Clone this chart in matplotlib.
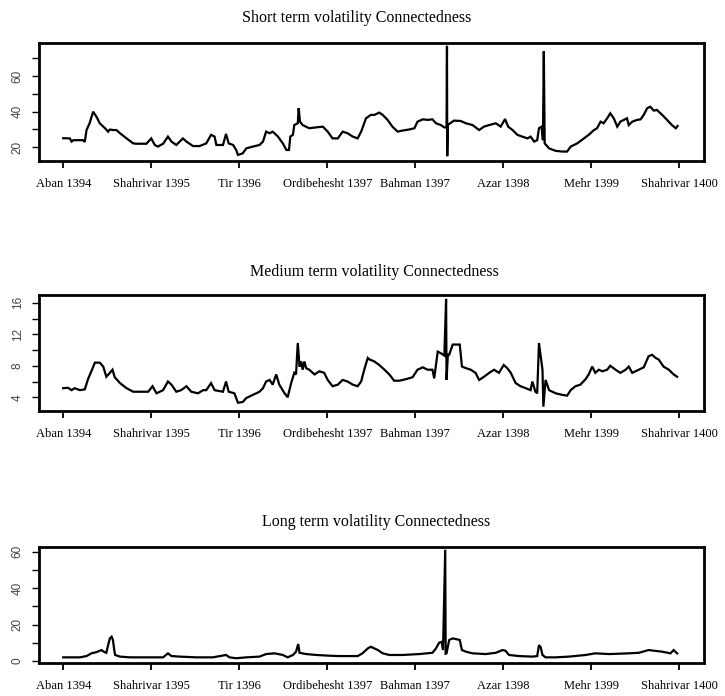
import matplotlib
matplotlib.use("Agg")
import matplotlib.pyplot as plt
import numpy as np

# observation index (trading days); tick labels every 200 obs
TICK_OBS = [0, 200, 400, 600, 800, 1000, 1200, 1400]
TICK_LABELS = ["Aban 1394", "Shahrivar 1395", "Tir 1396", "Ordibehesht 1397",
               "Bahman 1397", "Azar 1398", "Mehr 1399", "Shahrivar 1400"]

short_x = [0, 15, 19, 23, 45, 49, 53, 60, 68, 76, 83, 95, 102, 106, 113, 121, 129, 144,
           159, 166, 189, 200, 208, 215, 227, 238, 246, 257, 272, 280, 295, 310, 325,
           336, 344, 348, 363, 370, 376, 386, 393, 397, 408, 416, 431, 446, 454, 461,
           469, 476, 488, 499, 507, 513, 516, 522, 525, 533, 535, 538, 544, 559, 575,
           590, 601, 612, 624, 635, 646, 658, 669, 677, 688, 699, 707, 718, 726, 737,
           748, 760, 771, 786, 798, 805, 817, 828, 839, 847, 858, 866, 871, 872, 872.6,
           874, 877, 888, 903, 915, 930, 945, 956, 968, 983, 994, 1004, 1011, 1021,
           1032, 1043, 1055, 1062, 1070, 1077, 1081, 1087, 1090, 1092, 1094, 1104,
           1119, 1134, 1145, 1153, 1168, 1183, 1194, 1206, 1213, 1221, 1228, 1236,
           1243, 1251, 1259, 1266, 1274, 1281, 1285, 1293, 1304, 1312, 1319, 1327,
           1334, 1342, 1349, 1361, 1372, 1383, 1392, 1396]
short_y = [25.1, 25.0, 23.2, 24.0, 24.0, 23.0, 29.7, 33.5, 40.0, 37.0, 33.5, 30.7, 28.8,
           30.0, 29.7, 29.7, 27.9, 25.0, 22.2, 22.0, 22.0, 25.0, 21.3, 20.4, 22.0, 26.0,
           23.2, 21.3, 25.0, 23.2, 20.7, 20.7, 22.2, 27.0, 26.0, 21.3, 21.3, 27.5, 22.2,
           21.3, 18.5, 15.7, 16.6, 19.4, 20.4, 21.3, 23.2, 28.8, 27.9, 28.8, 26.0, 22.2,
           18.5, 18.5, 26.0, 27.0, 32.5, 33.5, 42.0, 34.4, 32.5, 30.7, 31.2, 31.6, 28.8,
           25.0, 25.0, 28.8, 27.9, 26.0, 25.0, 28.8, 36.3, 38.2, 38.2, 39.5, 38.2, 35.4,
           31.6, 28.8, 29.4, 30.0, 30.7, 34.4, 35.7, 35.4, 35.7, 33.5, 32.5, 31.2, 31.0,
           77.0, 15.0, 33.0, 33.1, 35.0, 34.8, 33.5, 32.5, 29.7, 31.6, 32.5, 33.5, 31.6,
           35.9, 31.6, 29.7, 27.0, 26.0, 25.0, 26.0, 23.2, 24.0, 30.7, 31.6, 24.0, 74.0,
           22.2, 19.4, 18.0, 17.6, 17.6, 20.4, 22.2, 25.0, 27.0, 29.7, 30.7, 34.4, 33.5,
           36.3, 39.1, 36.3, 31.6, 34.4, 35.4, 36.3, 32.5, 34.4, 35.4, 35.7, 38.2, 42.0,
           42.8, 40.6, 41.0, 38.2, 35.4, 32.5, 30.7, 32.0]

medium_x = [0, 11, 19, 26, 38, 49, 57, 64, 72, 83, 91, 98, 106, 112, 117, 129, 144, 159,
            174, 193, 203, 212, 227, 238, 246, 257, 268, 280, 291, 306, 318, 325, 336,
            344, 363, 370, 376, 389, 397, 408, 416, 431, 446, 454, 461, 469, 476, 484,
            491, 503, 510, 518, 525, 529, 533, 537, 541, 544, 548, 552, 559, 571, 582,
            593, 601, 612, 624, 635, 646, 658, 669, 677, 684, 692, 696, 707, 718, 730,
            741, 752, 764, 779, 794, 805, 817, 828, 839, 843, 851, 858, 866, 870, 871,
            874, 877, 885, 896, 901, 906, 915, 926, 937, 945, 956, 968, 979, 990, 1001,
            1009, 1017, 1028, 1039, 1051, 1062, 1066, 1073, 1077, 1081, 1085, 1089, 1091,
            1096, 1104, 1119, 1134, 1145, 1153, 1164, 1175, 1187, 1194, 1202, 1209, 1217,
            1225, 1236, 1243, 1255, 1266, 1278, 1285, 1293, 1308, 1319, 1330, 1338, 1346,
            1353, 1364, 1376, 1387, 1395]
medium_y = [5.15, 5.2, 4.9, 5.15, 4.9, 5.0, 6.4, 7.3, 8.4, 8.4, 7.9, 6.6, 7.1, 7.5, 6.55,
            5.8, 5.15, 4.7, 4.7, 4.7, 5.4, 4.5, 4.9, 6.0, 5.6, 4.7, 4.9, 5.4, 4.7, 4.5,
            4.9, 4.9, 5.8, 4.9, 4.7, 6.0, 4.7, 4.5, 3.3, 3.4, 3.9, 4.3, 4.7, 5.15, 6.0,
            6.2, 5.6, 6.9, 5.6, 4.5, 4.0, 5.8, 7.1, 6.9, 10.9, 7.9, 8.55, 7.5, 8.55, 7.7,
            7.5, 6.9, 7.3, 7.1, 6.2, 5.4, 5.6, 6.2, 6.0, 5.6, 5.4, 6.0, 7.5, 9.0, 8.8,
            8.55, 8.1, 7.5, 6.9, 6.1, 6.1, 6.3, 6.55, 7.5, 7.8, 7.5, 7.5, 6.4, 9.8, 9.6,
            9.3, 16.5, 6.2, 9.4, 9.4, 10.7, 10.7, 10.7, 7.9, 7.7, 7.5, 7.1, 6.2, 6.6, 7.1,
            7.5, 7.1, 8.1, 7.7, 7.1, 5.8, 5.4, 5.15, 4.9, 6.0, 4.7, 4.5, 10.9, 9.2, 7.5,
            2.8, 6.2, 4.9, 4.5, 4.3, 4.2, 4.9, 5.4, 5.6, 6.3, 6.9, 7.9, 7.1, 7.5, 7.3,
            7.5, 8.0, 7.5, 7.1, 7.5, 7.9, 7.1, 7.5, 7.8, 9.2, 9.4, 9.0, 8.8, 7.9, 7.5,
            6.9, 6.6]

long_x = [0, 15, 38, 53, 64, 76, 87, 92, 98, 102, 106, 110, 113, 116, 118, 129, 151, 189,
          227, 238, 246, 265, 302, 340, 370, 378, 393, 416, 446, 461, 480, 499, 510, 522,
          529, 534, 537, 552, 575, 605, 627, 650, 669, 680, 692, 699, 707, 715, 726, 741,
          771, 809, 839, 847, 854, 860, 863, 868, 869, 871, 877, 885, 896, 901, 906, 915,
          930, 960, 983, 998, 1005, 1013, 1036, 1066, 1077, 1081, 1085, 1089, 1096, 1119,
          1149, 1187, 1209, 1240, 1285, 1308, 1330, 1361, 1380, 1387, 1395]
long_y = [2.0, 2.0, 2.0, 2.7, 4.2, 4.9, 6.0, 5.1, 4.5, 8.7, 12.4, 13.3, 11.5, 6.0, 3.3,
          2.4, 2.0, 2.0, 2.0, 4.2, 2.7, 2.4, 2.0, 2.0, 3.3, 2.0, 1.5, 2.0, 2.4, 3.8, 4.2,
          3.3, 2.0, 3.3, 5.1, 9.3, 4.5, 3.8, 3.3, 2.9, 2.7, 2.7, 2.7, 4.2, 6.9, 7.8, 6.9,
          6.0, 4.2, 3.3, 3.3, 3.8, 4.5, 6.9, 10.0, 10.5, 6.0, 61.0, 4.0, 4.2, 11.5, 12.4,
          11.8, 11.5, 6.0, 5.1, 4.2, 3.8, 4.5, 6.0, 5.6, 3.3, 2.7, 2.4, 2.7, 8.7, 7.5, 3.3,
          2.0, 2.0, 2.4, 3.3, 4.2, 3.8, 4.2, 4.5, 6.0, 5.1, 4.2, 6.0, 4.2]

TITLES = ["Short term volatility Connectedness",
          "Medium term volatility Connectedness",
          "Long term volatility Connectedness"]

W, H = 725, 696
fig = plt.figure(figsize=(W / 100, H / 100), dpi=100)


def px_axes(left, top, right, bottom):
    return fig.add_axes([left / W, 1 - bottom / H, (right - left) / W, (bottom - top) / H])


panels = [
    # (x, y, box px, ylim, yticks, ylabels, title y px, title x px)
    (short_x, short_y, (39, 43, 704, 161), (12.3, 78.6),
     [20, 30, 40, 50, 60, 70], ["20", "", "40", "", "60", ""], 18, 357),
    (medium_x, medium_y, (39, 295, 704, 411), (2.25, 17.0),
     [4, 6, 8, 10, 12, 14, 16], ["4", "", "8", "", "12", "", "16"], 272, 374),
    (long_x, long_y, (39, 547, 704, 663), (-1.1, 62.5),
     [0, 10, 20, 30, 40, 50, 60], ["0", "", "20", "", "40", "", "60"], 522, 376),
]

for (xs, ys, box, ylim, yt, yl, ty, tx), title in zip(panels, TITLES):
    ax = px_axes(*box)
    ax.plot(xs, ys, color="black", linewidth=1.6, solid_joinstyle="miter")
    ax.set_xlim(-55, 1456)
    ax.set_ylim(*ylim)
    ax.set_xticks(TICK_OBS)
    ax.set_xticklabels(TICK_LABELS, family="Liberation Serif", fontsize=9)
    ax.set_yticks(yt)
    ax.set_yticklabels(yl, family="Liberation Sans", fontsize=8.5, rotation=90,
                       va="center", color="#444444")
    ax.tick_params(axis="x", length=5, width=1.3, pad=7)
    ax.tick_params(axis="y", length=5, width=1.0, pad=6)
    for s in ax.spines.values():
        s.set_linewidth(2.0)
    fig.text(tx / W, 1 - ty / H, title, ha="center", va="center",
             family="Liberation Serif", fontsize=11.5)

fig.savefig("out.png", dpi=100)
